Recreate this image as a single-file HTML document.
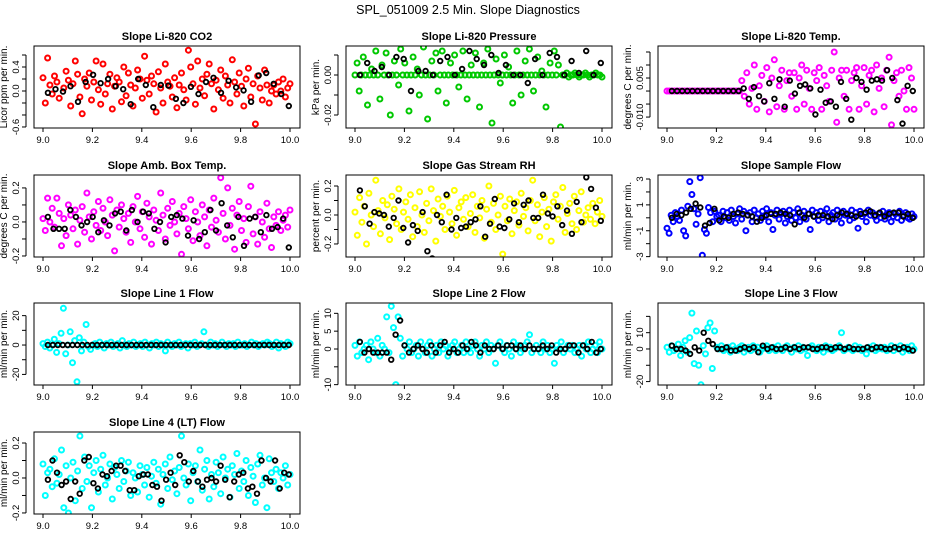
<!DOCTYPE html>
<html><head><meta charset="utf-8">
<style>
html,body{margin:0;padding:0;background:#fff;}
svg{display:block;font-family:"Liberation Sans",Arial,sans-serif;}
</style></head>
<body>
<svg id="chart" width="936" height="540" viewBox="0 0 936 540" xmlns="http://www.w3.org/2000/svg">
<rect width="936" height="540" fill="#fff"/>
<text x="468" y="14" text-anchor="middle" font-size="12.5">SPL_051009  2.5 Min. Slope Diagnostics</text>
</svg>
<script>
const xTicks=[9.0,9.2,9.4,9.6,9.8,10.0];
const xTickLabels=["9.0","9.2","9.4","9.6","9.8","10.0"];
const titles=["Slope Li-820 CO2","Slope Li-820 Pressure","Slope Li-820 Temp.","Slope Amb. Box Temp.","Slope Gas Stream RH","Slope Sample Flow","Slope Line 1 Flow","Slope Line 2 Flow","Slope Line 3 Flow","Slope Line 4 (LT) Flow"];
const yTitles=["Licor ppm per min.","kPa per min.","degrees C per min.","degrees C per min.","percent per min.","ml/min per min.","ml/min per min.","ml/min per min.","ml/min per min.","ml/min per min."];
const colors=["#ff0000","#00c800","#ff00ff","#ff00ff","#ffff00","#0000ff","#00ffff","#00ffff","#00ffff","#00ffff"];
const yLims=[[-0.617,0.75],[-0.0265,0.0145],[-0.0142,0.0173],[-0.206,0.276],[-0.29,0.276],[-3.03,3.31],[-27.2,28.6],[-10.1,12.9],[-22.1,28.2],[-0.206,0.263]];
const yTicks=[[-0.6,-0.4,-0.2,0,0.2,0.4,0.6],[-0.02,-0.01,0,0.01],[-0.01,-0.005,0,0.005,0.01,0.015],[-0.2,-0.1,0,0.1,0.2],[-0.2,-0.1,0,0.1,0.2],[-3,-2,-1,0,1,2,3],[-20,-10,0,10,20],[-10,-5,0,5,10],[-20,-10,0,10,20],[-0.2,-0.1,0,0.1,0.2]];
const yLabelVals=[[-0.6,0,0.4],[-0.02,0],[-0.01,0.005],[-0.2,0,0.2],[-0.2,0,0.2],[-3,-1,1,3],[-20,0,20],[-10,0,5,10],[-20,0,10],[-0.2,0,0.2]];
const yLabelText=[["-0.6","0.0","0.4"],["-0.02","0.00"],["-0.010","0.005"],["-0.2","0.0","0.2"],["-0.2","0.0","0.2"],["-3","-1","1","3"],["-20","0","20"],["-10","0","5","10"],["-20","0","10"],["-0.2","0.0","0.2"]];

const co2=[0.22,-0.2,0.55,0.1,-0.05,0.25,0.15,-0.12,-0.75,0.05,0.33,0.18,-0.25,0.12,0.5,0.28,-0.1,-0.38,0.2,0.08,0.3,-0.15,0.15,0.5,0.02,-0.22,0.45,-0.05,0.12,0.28,-0.3,0.08,0.22,0.15,-0.18,0.4,-0.08,0.3,0.1,-0.25,0.05,0.35,0.2,-0.12,0.58,0.18,-0.05,0.25,0.12,-0.35,0.32,0.05,-0.2,0.45,0.15,0.08,-0.1,0.22,-0.28,0.1,0.3,0.02,-0.15,0.68,0.4,0.12,-0.22,0.5,0.05,0.2,-0.08,0.28,0.45,0.12,-0.3,0.18,0.02,0.35,-0.12,0.25,0.1,-0.2,0.52,0.15,-0.05,0.3,0.08,-0.25,0.2,0.38,-0.1,0.12,-0.55,0.25,0.05,-0.15,0.35,0.1,-0.2,0.0,0.1,-0.05,0.15,0.0,0.2,-0.1,0.05,0.12];
const co2Ref=[-0.03,0.03,-0.01,0.08,-0.18,0.15,0.27,0.13,0.2,0.08,0.03,-0.22,0.2,0.1,-0.27,0.1,0.09,-0.13,-0.2,0.07,-0.05,0.15,0.22,-0.03,0.17,0.06,0.01,-0.18,0.26,0.3,0.12,-0.05,-0.25];
const pres=[0,0.006,-0.008,0,0.009,0,-0.015,0,0.003,0,0.012,0,-0.012,0.005,0,0.011,0,-0.02,0,0.007,0,-0.005,0.013,0,0.006,0,-0.018,0,0.009,0,0.003,-0.01,0,0.014,0,-0.022,0,0.007,0,0.011,-0.008,0,0.012,0,-0.014,0,0.006,0,0.01,0,-0.006,0,0.012,0,-0.012,0,0.005,0,0.011,0,-0.016,0,0.006,0,0.013,0,-0.024,0,0.008,0,-0.004,0,0.01,0,0.004,0,-0.014,0,0.012,0,-0.01,0,0.007,0,0.013,0,-0.008,0,0.009,0,0.002,0,-0.016,0,0.006,0,0.012,0,0.005,-0.026,0,0,0.001,-0.001,0,0,0.001,0,-0.001,0,0,0.001,0,-0.001,0,0,0.001,0,0,-0.001];
const presRef=[0,0.006,0.002,0.004,0,0.009,0.008,-0.008,0.002,0.002,0,0.007,0.009,0,0.003,0.012,0.008,0.005,0.01,0.001,0.005,0,0,-0.004,0.008,0,0.011,0.009,0,0.007,0.001,0.012,0,0.006];
const ltemp=[0,0,0,0,0,0,0,0,0,0,0,0,0,0,0,0,0,0,0,0,0,0,0,0,0,0,0,0,0,0,0.004,-0.002,0.007,-0.005,0.001,0.01,-0.007,0.002,0.006,-0.004,0.009,-0.008,0.005,0.012,-0.006,0.002,0.008,-0.007,0.004,0.007,-0.002,0.007,-0.007,0.005,0.01,-0.005,0.008,0.001,-0.007,0.007,0.004,0.009,-0.007,0.006,0.002,-0.004,0.008,0.015,-0.012,0.005,0.008,-0.002,0.008,-0.007,0.004,0.007,0.009,-0.007,0.002,0.009,-0.005,0.006,0.008,-0.008,0.01,0.001,0.005,-0.006,0.008,0.013,-0.013,0.004,0.007,-0.002,0.008,0.0,-0.007,0.009,0.005,-0.007];
const ltempRef=[0,0,0,0,0,0,0,0,0,0,0,0,0,0,0.001,-0.003,0.0015,-0.002,-0.004,0.003,-0.003,0.0045,-0.006,0.004,-0.001,0.002,0.0025,0.001,-0.009,0.0005,-0.0045,-0.004,-0.006,0.0035,-0.003,-0.011,0.005,0.0035,0.0005,0.004,0.0045,0.004,0.008,0.005,-0.0035,-0.0125,0.002,0.0];
const abox=[0.02,-0.05,0.14,0.0,0.08,-0.03,0.14,0.05,-0.14,0.02,-0.08,0.1,0.04,-0.04,0.07,-0.13,0.01,0.09,-0.06,0.17,0.03,-0.1,0.06,-0.02,0.12,-0.05,0.08,0.0,-0.08,0.13,0.04,-0.17,0.07,-0.03,0.1,0.02,-0.06,0.05,-0.12,0.09,0.0,0.15,-0.04,0.06,-0.09,0.11,0.03,-0.13,0.07,0.01,-0.05,0.17,0.04,-0.1,0.08,-0.02,0.12,0.0,-0.07,0.05,-0.19,0.09,0.02,-0.04,0.13,-0.11,0.06,0.0,-0.08,0.1,0.03,-0.14,0.07,-0.03,0.14,0.01,-0.06,0.26,0.05,-0.1,0.2,-0.02,0.08,-0.16,0.04,0.12,-0.05,0.02,-0.12,0.09,0.21,-0.07,0.03,-0.13,0.06,0.0,-0.09,0.11,-0.04,-0.15,0.03,-0.02,0.06,-0.05,0.01,0.04,-0.03,0.07];
const aboxRef=[0.03,-0.04,-0.04,-0.04,0.07,0.03,-0.02,0.0,0.03,-0.06,0.01,-0.02,0.05,0.06,-0.05,0.07,0.0,0.06,0.05,-0.04,0.0,-0.12,0.03,0.04,0.02,-0.08,0.01,-0.1,-0.06,0.07,-0.05,0.11,-0.02,-0.09,0.03,-0.14,0.02,0.03,-0.06,0.04,-0.04,-0.03,0.02,-0.15];
const rh=[0.02,-0.14,0.12,-0.05,0.06,-0.2,0.15,0.0,-0.08,0.24,0.03,-0.13,0.1,-0.02,0.07,-0.17,0.13,0.04,-0.06,0.18,-0.1,0.02,0.09,-0.03,0.14,-0.15,0.05,-0.08,0.16,0.0,-0.12,0.08,-0.04,0.18,0.03,-0.18,0.11,-0.01,0.06,-0.1,0.13,0.02,-0.06,0.17,-0.14,0.05,0.09,-0.03,0.12,-0.08,0.01,0.14,-0.12,0.06,-0.02,0.1,-0.16,0.04,0.2,-0.05,0.08,-0.1,0.0,0.13,-0.27,0.06,-0.04,0.11,-0.13,0.03,0.09,-0.07,0.15,-0.01,0.05,-0.11,0.1,0.24,-0.04,0.07,-0.15,0.02,0.12,-0.08,0.04,-0.18,0.09,0.14,-0.03,0.06,0.19,-0.12,0.01,0.08,-0.06,0.13,-0.1,0.03,0.16,-0.05,0.0,0.05,-0.03,0.08,-0.06,0.02,0.1,-0.01];
const rhRef=[0.17,0.06,-0.06,0.02,0.01,0.0,-0.08,-0.02,0.1,-0.09,-0.19,-0.07,-0.11,0.02,-0.25,-0.3,0.0,-0.05,0.14,-0.1,-0.02,-0.09,-0.08,-0.05,-0.03,0.06,-0.15,-0.06,0.11,-0.08,-0.09,-0.03,0.08,-0.05,0.07,0.1,-0.02,-0.02,0.14,0.01,-0.01,0.06,-0.07,0.03,-0.13,0.09,-0.05,0.26,0.18,0.05,-0.04];
const sflow=[-0.8,-1.2,0.2,-0.3,0.4,0.1,-0.2,0.6,-1.0,-1.4,0.9,2.8,1.8,0.7,-0.5,0.3,3.1,-2.9,-0.9,-1.2,0.8,0.4,-0.3,0.5,0.1,0.2,-0.3,0.5,0.0,0.4,-0.2,0.6,0.1,-0.4,0.3,0.7,-0.1,0.5,-1.0,0.2,0.4,-0.3,0.6,0.0,0.3,-0.2,0.5,0.1,0.7,-0.3,0.4,-0.9,0.2,0.6,-0.1,0.3,0.5,-0.4,0.1,0.6,-0.2,0.4,0.0,0.7,-0.3,0.2,0.5,-0.1,0.3,-0.9,0.6,0.1,0.4,-0.2,0.5,0.0,0.3,0.7,-0.3,0.2,0.4,-0.1,0.6,0.1,-0.4,0.5,0.2,0.3,-0.2,0.6,0.0,0.4,-0.8,0.5,0.1,0.3,-0.3,0.6,0.2,0.4,0.1,-0.2,0.3,0.0,0.5,-0.1,0.2,0.4,-0.3,0.1,0.3,0.0,0.5,-0.2,0.2,0.4,0.0,-0.1,0.3,0.1];
const sflowRef=[0.0,0.3,0.2,0.4,0.7,1.1,0.8,-0.6,-0.4,0.7,-0.2,0.1,0.0,0.3,0.4,0.3,0.2,0.1,-0.3,0.0,0.2,0.3,0.3,0.4,0.3,0.2,-0.5,0.4,0.0,0.3,0.1,0.2,0.2,0.1,-0.1,0.2,0.4,0.3,0.2,0.1,0.3,0.4,0.5,0.2,0.4,0.1,0.3,0.4,0.4,0.1,0.3,0.0];
const line1=[1,-1,2,-2,0,4,-5,1,8,25,-6,0,9,-12,3,-25,5,-4,2,14,-1,-3,0,1,-1,2,0,-2,1,0,2,-1,0,1,-2,3,0,-1,1,0,2,-1,0,1,-1,2,0,-2,1,0,2,-1,1,0,-4,2,0,-1,1,0,2,-1,0,1,-2,1,0,2,-1,0,1,9,0,-1,2,0,1,-1,0,2,0,-1,1,0,1,-1,2,0,0,1,-1,0,2,0,1,-1,0,1,0,2,1,-1,0,2,-2,1,0,-1,2,1];
const line1Ref=[0,0,0,0,0,0,0,0,0,0,0,0,0,0,0,0,0,0,0,0,0,0,0,0,0,0,0,0,0,0,0,0,0,0,0,0,0,0,0,0,0,0,0,0,0,0,0,0,0,0];
const line2=[1,-2,2,-1,0,1,-3,2,0,-1,3,-2,1,0,9,-1,12,6,-10,9,3,-2,1,0,2,-1,0,1,-2,2,0,-1,1,2,-2,0,1,-1,2,0,1,-2,0,1,2,-1,0,1,-1,2,0,-1,1,2,0,-2,1,0,2,-1,1,0,-4,1,2,0,-1,1,0,-2,2,0,1,-1,0,1,2,4,-1,0,1,0,-1,2,0,1,-1,0,-4,1,0,2,-1,0,1,0,1,-1,0,1,-2,1,0,2,-1,0,1,-1,2,0];
const line2Ref=[2,-1,0,-1,-1,-1,-1,-3,4,8,1,-1,0,1,0,-1,1,-1,1,2,-1,0,-1,1,0,2,1,-1,1,0,0,1,0,1,1,0,1,0,1,0,0,1,0,1,-1,0,0,1,1,-1,1,0,2,-1,0];
const line3=[1,-2,2,-1,0,3,-4,1,5,-2,7,22,-9,11,-10,-22,2,-3,13,16,-12,11,1,0,2,-1,0,1,-2,2,0,-1,1,2,-2,0,1,-1,2,0,1,-2,0,1,2,-1,0,1,-1,2,0,-1,1,2,0,-2,1,0,2,-1,1,0,-4,1,2,0,-1,1,0,-2,2,0,1,-1,0,1,2,10,-1,0,1,0,-1,2,0,1,-1,0,-3,1,0,2,-1,0,1,0,1,-1,0,2,-1,1,0,2,-2,0,1,-1,2,0];
const line3Ref=[2,0,0,-1,-3,1,-1,10,5,3,0,0,1,-1,-1,0,1,0,1,-2,2,0,1,0,0,1,0,1,0,1,1,0,0,1,1,0,1,1,0,1,0,0,0,1,0,1,1,0,0,1,0,1,0,-1];
const line4=[0.08,-0.1,0.03,0.05,-0.05,0.11,-0.03,0.02,0.16,-0.17,0.07,-0.2,0.0,0.09,-0.13,0.04,0.24,-0.06,0.12,-0.02,0.07,-0.17,0.03,0.1,-0.08,0.05,0.13,-0.04,0.0,0.08,-0.12,0.06,0.02,-0.06,0.1,-0.02,0.04,0.09,-0.1,0.03,0.0,-0.08,0.07,0.02,-0.04,0.06,-0.11,0.01,0.09,-0.03,0.05,-0.15,0.02,0.08,-0.06,0.12,-0.01,0.04,-0.09,0.06,0.24,0.0,-0.04,0.08,-0.13,0.03,0.07,-0.02,0.16,-0.07,0.05,0.1,-0.12,0.02,-0.05,0.09,0.03,-0.09,0.12,0.0,0.05,-0.11,0.07,0.02,0.14,-0.06,0.04,-0.02,0.1,-0.1,0.06,0.01,-0.14,0.08,0.13,-0.04,0.0,-0.17,0.11,0.03,-0.02,0.05,-0.06,0.03,0.0,0.07,-0.04,0.02];
const line4Ref=[-0.01,0.1,0.03,-0.04,-0.02,-0.12,-0.02,-0.09,0.1,0.12,-0.03,-0.06,0.02,0.01,0.04,0.07,0.07,0.04,-0.07,-0.07,0.01,0.02,0.02,-0.04,-0.05,-0.13,-0.01,0.03,-0.04,0.13,0.09,-0.02,0.04,-0.02,-0.05,-0.01,0.0,-0.02,0.07,-0.01,-0.11,-0.02,0.02,0.03,-0.06,-0.05,-0.09,0.1,0.0,-0.02,0.1,-0.06,0.03,0.02];

const series=[co2,pres,ltemp,abox,rh,sflow,line1,line2,line3,line4];
const refSeries=[co2Ref,presRef,ltempRef,aboxRef,rhRef,sflowRef,line1Ref,line2Ref,line3Ref,line4Ref];
const slug=["co2","pressure","licor-temp","amb-box-temp","gas-rh","sample-flow","line1-flow","line2-flow","line3-flow","line4-flow"];

const NS="http://www.w3.org/2000/svg";
const svg=document.getElementById('chart');
const colLeft=[34,346,658], rowTop=[46,175,303,432], W=266, H=82;
const XMIN=9-9/247, XMAX=9+257/247;
function mk(tag,attrs,parent){const e=document.createElementNS(NS,tag);for(const k in attrs)e.setAttribute(k,attrs[k]);(parent||svg).appendChild(e);return e;}
const defs=mk('defs',{});

series.forEach((vals,p)=>{
  const L=colLeft[p%3], T=rowTop[Math.floor(p/3)];
  const [ymin,ymax]=yLims[p];
  const xAt=v=>L+(v-XMIN)/(XMAX-XMIN)*W;
  const yAt=v=>T+(ymax-v)/(ymax-ymin)*H;
  const cp=mk('clipPath',{id:'clip'+p},defs);
  mk('rect',{x:L,y:T,width:W,height:H},cp);
  const g=mk('g',{});
  
  
  const t=mk('text',{x:L+W/2,y:T-6,'text-anchor':'middle','font-size':'11','font-weight':'bold'},g);
  
  
  t.textContent=titles[p];
  const pts=mk('g',{fill:'none',stroke:colors[p],'stroke-width':'2','clip-path':'url(#clip'+p+')'},g);
  
  
  vals.forEach((v,i)=>{
    const xv=9+i/(vals.length-1);
    const c=mk('circle',{cx:xAt(xv).toFixed(1),cy:yAt(v).toFixed(1),r:'2.5'},pts);
    
    
  });
  const rpts=mk('g',{fill:'none',stroke:'#000','stroke-width':'1.8','clip-path':'url(#clip'+p+')'},g);
  
  
  const rv=refSeries[p];
  rv.forEach((v,i)=>{
    const xv=9.02+i*0.975/(rv.length-1);
    const c=mk('circle',{cx:xAt(xv).toFixed(1),cy:yAt(v).toFixed(1),r:'2.3'},rpts);
    
    
  });
  const b=mk('rect',{x:L,y:T,width:W,height:H,fill:'none',stroke:'#000','stroke-width':'1'},g);
  
  
  const xa=mk('g',{},g);
  
  
  mk('line',{x1:xAt(9),x2:xAt(10),y1:T+H,y2:T+H,stroke:'#000'},xa);
  xTicks.forEach((v,i)=>{
    mk('line',{x1:xAt(v),x2:xAt(v),y1:T+H,y2:T+H+4,stroke:'#000'},xa);
    const tl=mk('text',{x:xAt(v),y:T+H+15,'text-anchor':'middle','font-size':'9.5'},xa);
    
    
    tl.textContent=xTickLabels[i];
  });
  const ya=mk('g',{},g);
  
  
  const tk=yTicks[p];
  mk('line',{x1:L-8,x2:L-8,y1:yAt(tk[0]),y2:yAt(tk[tk.length-1]),stroke:'#000'},ya);
  tk.forEach(v=>{mk('line',{x1:L-12,x2:L-8,y1:yAt(v),y2:yAt(v),stroke:'#000'},ya);});
  yLabelVals[p].forEach((v,i)=>{
    const y=yAt(v), x=L-15;
    const tl=mk('text',{x:x,y:y,'text-anchor':'middle','font-size':'9.5',transform:`rotate(-90 ${x} ${y})`},ya);
    
    
    tl.textContent=yLabelText[p][i];
  });
  const yt=mk('text',{x:L-27,y:T+H/2,'text-anchor':'middle','font-size':'10',transform:`rotate(-90 ${L-27} ${T+H/2})`},ya);
  
  
  yt.textContent=yTitles[p];
});
</script>
</body></html>
